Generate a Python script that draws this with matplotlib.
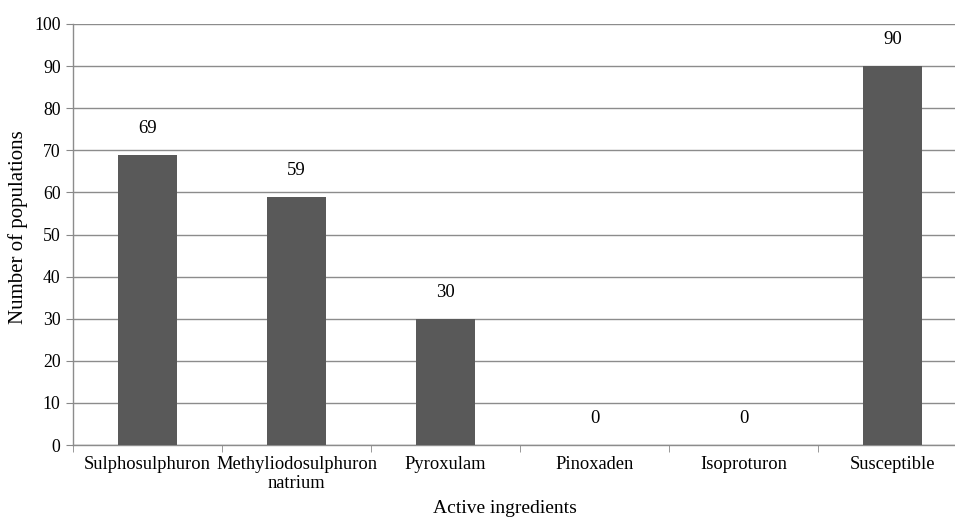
import matplotlib.pyplot as plt
import numpy as np

# data
categories = ['Sulphosulphuron', 'Methyliodosulphuron\nnatrium', 'Pyroxulam',
              'Pinoxaden', 'Isoproturon', 'Susceptible']
populations = [69, 59, 30, 0, 0, 90]
y_ticks = list(range(0, 101, 10))

plt.rcParams['font.family'] = ['Liberation Serif', 'DejaVu Serif']

fig = plt.figure(figsize=(9.55, 5.17), dpi=100)
# axes runs a bit past the right edge, as in the cropped original
ax = fig.add_axes([73 / 955, 1 - 445 / 517, (967 - 73) / 955, (445 - 24) / 517])

x = np.arange(len(categories))
bars = ax.bar(x, populations, width=0.4, color='#595959', zorder=3)

for xi, v in zip(x, populations):
    ax.annotate(str(v), (xi, v), xytext=(0, 19), textcoords='offset points',
                ha='center', va='center', fontsize=13.5)

ax.set_xlim(-0.5, len(categories) - 0.5)
ax.set_ylim(0, 100)
ax.set_yticks(y_ticks)
ax.tick_params(axis='y', labelsize=12.8, length=5, color='#888888', pad=4)
ax.yaxis.grid(True, color='#8c8c8c', linewidth=1, zorder=0)

ax.set_xticks(x)
ax.set_xticklabels(categories, fontsize=13.3, linespacing=1.15)
ax.tick_params(axis='x', length=0, pad=8)
ax.set_xticks(np.arange(len(categories) + 1) - 0.5, minor=True)
ax.tick_params(axis='x', which='minor', length=5, color='#888888')

for side in ['top', 'right']:
    ax.spines[side].set_visible(False)
for side in ['left', 'bottom']:
    ax.spines[side].set_color('#8c8c8c')
    ax.spines[side].set_linewidth(1)

ax.set_ylabel('Number of populations', fontsize=15)
ax.yaxis.set_label_coords(-(73 - 18) / (967 - 73), (445 - 227) / (445 - 24))
ax.yaxis.label.set_va('center')
ax.set_xlabel('Active ingredients', fontsize=14)
ax.xaxis.set_label_coords((505 - 73) / (967 - 73), -(500 - 445) / (445 - 24))
ax.xaxis.label.set_va('top')

fig.savefig('out.png', dpi=100)
